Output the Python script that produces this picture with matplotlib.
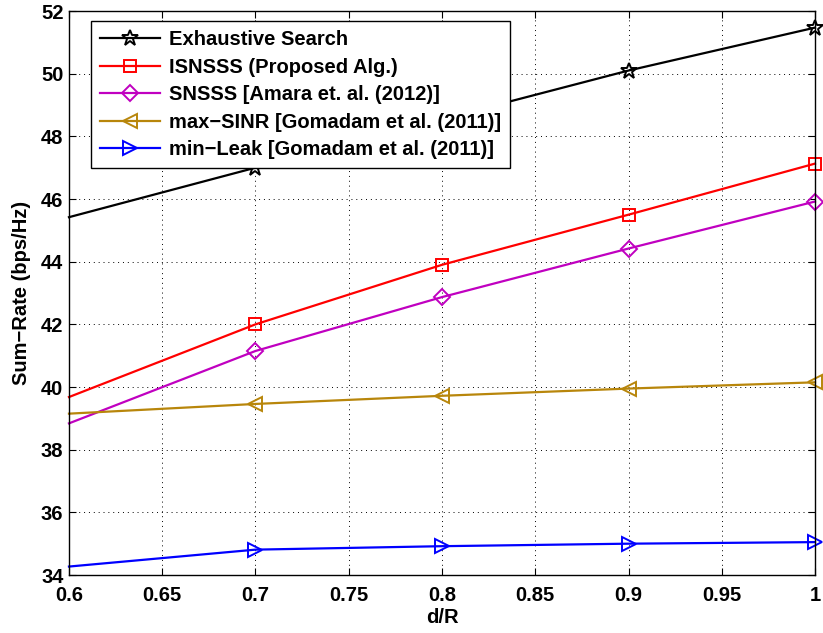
import matplotlib
matplotlib.use("Agg")
import matplotlib.pyplot as plt

x = [0.6, 0.7, 0.8, 0.9, 1.0]
exhaustive = [45.42, 47.0, 48.55, 50.1, 51.47]
isnsss = [39.68, 42.0, 43.9, 45.5, 47.13]
snsss = [38.84, 41.15, 42.87, 44.42, 45.92]
max_sinr = [39.15, 39.46, 39.72, 39.95, 40.15]
min_leak = [34.27, 34.81, 34.92, 35.0, 35.05]

labels = ["Exhaustive Search", "ISNSSS (Proposed Alg.)",
          "SNSSS [Amara et. al. (2012)]",
          "max\u2212SINR [Gomadam et al. (2011)]",
          "min\u2212Leak [Gomadam et al. (2011)]"]
colors = ["black", "#ff0000", "#c000c0", "#b8860b", "#0000ff"]
markers = ["*", "s", "D", "<", ">"]
msizes = [12, 8, 8, 10, 10]

plt.rcParams['font.family'] = ['Liberation Sans', 'DejaVu Sans']
plt.rcParams['font.weight'] = 'bold'

fig = plt.figure(figsize=(8.23, 6.33), dpi=100)
ax = fig.add_axes([0.0838, 0.0916, 0.9065, 0.891])

series = [exhaustive, isnsss, snsss, max_sinr, min_leak]
for y, lab, c, m, ms in zip(series, labels, colors, markers, msizes):
    ax.plot(x, y, color=c, lw=1.6, marker=m, markersize=ms,
            markerfacecolor='none', markeredgecolor=c, markeredgewidth=1.4,
            markevery=[1, 2, 3, 4], label=lab, clip_on=False)

ax.set_xlim(0.6, 1.0)
ax.set_ylim(34, 52)
ax.set_xticks([0.6, 0.65, 0.7, 0.75, 0.8, 0.85, 0.9, 0.95, 1.0])
ax.set_xticklabels(["0.6", "0.65", "0.7", "0.75", "0.8", "0.85", "0.9", "0.95", "1"])
ax.set_yticks(range(34, 53, 2))
ax.tick_params(direction='in', top=True, right=True, labelsize=14.5, length=5, width=0.8)
ax.tick_params(axis='x', pad=8)
ax.tick_params(axis='y', pad=4)
for lbl in ax.get_xticklabels() + ax.get_yticklabels():
    lbl.set_fontweight('bold')
ax.grid(True, color='black', linestyle=(0, (1, 4)), linewidth=0.7)
for s in ax.spines.values():
    s.set_linewidth(1.0)

ax.set_xlabel("d/R", fontsize=14.5, fontweight='bold', labelpad=2)
ax.set_ylabel("Sum\u2212Rate (bps/Hz)", fontsize=14.5, fontweight='bold', labelpad=7)

leg = ax.legend(loc='upper left', bbox_to_anchor=(0.0295, 0.982), borderaxespad=0,
                fontsize=14.5, frameon=True, fancybox=False, edgecolor='black',
                framealpha=1, handlelength=3.0, borderpad=0.45, labelspacing=0.42,
                handletextpad=0.4)
leg.get_frame().set_linewidth(1.0)
for t in leg.get_texts():
    t.set_fontweight('bold')

fig.savefig("out.png", dpi=100)
